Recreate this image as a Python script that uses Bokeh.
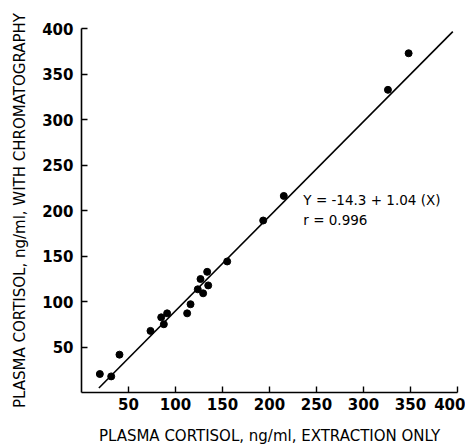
from bokeh.plotting import figure
from bokeh.models import Range1d, FixedTicker, Label
from bokeh.embed import file_html
from bokeh.resources import INLINE

# Data
extraction_only = [19.5, 31.6, 40.4, 73.4, 84.8, 87.6, 91.1, 112.4, 116.0, 123.7,
                   126.6, 129.4, 133.7, 134.8, 155.0, 193.3, 215.2, 326.0, 348.0]
with_chromatography = [20.3, 17.7, 41.6, 67.7, 82.6, 75.0, 87.0, 87.0, 97.0, 113.4,
                       124.7, 109.0, 132.6, 117.7, 144.0, 189.0, 216.0, 332.6, 372.8]
fit_x = [18.5, 395.0]
fit_y = [4.9, 396.5]
ticks = [50, 100, 150, 200, 250, 300, 350, 400]
equation_text = "Y = -14.3 + 1.04 (X)"
r_text = "r = 0.996"

FONT = "DejaVu Sans"

p = figure(frame_width=376, frame_height=364, output_backend="svg", toolbar_location=None,
           x_range=Range1d(0, 400), y_range=Range1d(0, 400),
           min_border_left=81, min_border_right=8, min_border_top=28, min_border_bottom=40)
p.outline_line_color = None
p.xgrid.visible = False
p.ygrid.visible = False
p.background_fill_color = "white"

p.line(fit_x, fit_y, line_color="black", line_width=1.6)
p.scatter(extraction_only, with_chromatography, size=7, fill_color="black", line_color="black")

for ax in (p.xaxis[0], p.yaxis[0]):
    ax.ticker = FixedTicker(ticks=ticks)
    ax.major_tick_in = 6
    ax.major_tick_out = 0
    ax.minor_tick_in = 0
    ax.minor_tick_out = 0
    ax.axis_line_width = 1.6
    ax.axis_line_color = "black"
    ax.major_tick_line_width = 1.4
    ax.major_tick_line_color = "black"
    ax.major_label_text_font = FONT
    ax.major_label_text_font_size = "15px"
    ax.major_label_text_font_style = "bold"
    ax.major_label_text_color = "black"
    ax.axis_label_text_font = FONT
    ax.axis_label_text_font_size = "15px"
    ax.axis_label_text_font_style = "normal"
    ax.axis_label_text_color = "black"

p.xaxis.axis_label = "PLASMA CORTISOL, ng/ml, EXTRACTION ONLY"
p.yaxis.axis_label = "PLASMA CORTISOL, ng/ml, WITH CHROMATOGRAPHY"
p.xaxis.major_label_standoff = 5
p.yaxis.major_label_standoff = 8
p.xaxis.axis_label_standoff = 14
p.yaxis.axis_label_standoff = 10

p.add_layout(Label(x=236, y=211, text=equation_text, text_font=FONT, text_font_size="13.5px",
                   text_baseline="middle", text_color="black"))
p.add_layout(Label(x=236, y=190, text=r_text, text_font=FONT, text_font_size="13.5px",
                   text_baseline="middle", text_color="black"))

open("out.html", "w").write(file_html(p, INLINE))
